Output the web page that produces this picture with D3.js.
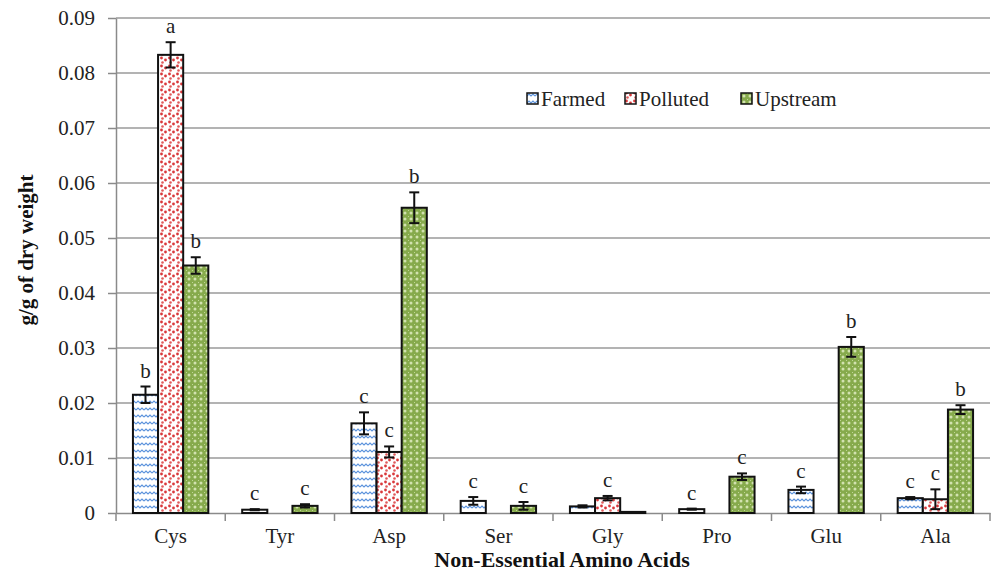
<!DOCTYPE html>
<html>
<head>
<meta charset="utf-8">
<script src="https://cdn.jsdelivr.net/npm/d3@7"></script>
<style>
  body { margin: 0; background: #fff; }
  svg text { font-family: "Liberation Serif", "Times New Roman", "DejaVu Serif", serif !important; }
</style>
</head>
<body>
<svg width="994" height="577"></svg>
<script>
const categories = ["Cys", "Tyr", "Asp", "Ser", "Gly", "Pro", "Glu", "Ala"];
const seriesNames = ["Farmed", "Polluted", "Upstream"];
const farmed   = [0.0215, 0.0006, 0.0163, 0.0022, 0.0012, 0.0007, 0.0042, 0.0027];
const polluted = [0.0833, 0, 0.0111, 0, 0.0027, 0, 0, 0.0025];
const upstream = [0.0450, 0.0013, 0.0555, 0.0013, 0.0002, 0.0066, 0.0302, 0.0188];
const farmedErr   = [0.0015, 0.0001, 0.0020, 0.0007, 0.0002, 0.0001, 0.0006, 0.0002];
const pollutedErr = [0.0023, 0, 0.0010, 0, 0.0004, 0, 0, 0.0018];
const upstreamErr = [0.0015, 0.0003, 0.0028, 0.0007, 0, 0.0006, 0.0018, 0.0008];
const farmedLetters   = ["b", "c", "c", "c", "", "c", "c", "c"];
const pollutedLetters = ["a", "", "c", "", "c", "", "", "c"];
const upstreamLetters = ["b", "c", "b", "c", "", "c", "b", "b"];
const yTicks = [0, 0.01, 0.02, 0.03, 0.04, 0.05, 0.06, 0.07, 0.08, 0.09];

const margin = { top: 18, right: 4, bottom: 64, left: 116 };
const width = 994, height = 577;
const serif = "'Liberation Serif', 'Times New Roman', 'DejaVu Serif', serif";

const svg = d3.select("svg");
const defs = svg.append("defs");

// Farmed: blue wavy lines on white
const pf = defs.append("pattern").attr("id", "pFarmed")
    .attr("patternUnits", "userSpaceOnUse").attr("width", 8).attr("height", 7);
pf.append("rect").attr("width", 8).attr("height", 7).attr("fill", "#fff");
pf.append("path").attr("d", "M0,4 L2,2 L4,4 L6,2 L8,4")
    .attr("fill", "none").attr("stroke", "#5a92dc").attr("stroke-width", 1.1);

// Polluted: red dots on white
const pp = defs.append("pattern").attr("id", "pPolluted")
    .attr("patternUnits", "userSpaceOnUse").attr("width", 8).attr("height", 8);
pp.append("rect").attr("width", 8).attr("height", 8).attr("fill", "#fff");
pp.append("circle").attr("cx", 1.5).attr("cy", 2).attr("r", 1.4).attr("fill", "#d9383a");
pp.append("circle").attr("cx", 5.5).attr("cy", 4).attr("r", 1.4).attr("fill", "#d9383a");
pp.append("circle").attr("cx", 2.5).attr("cy", 6.5).attr("r", 1.3).attr("fill", "#e05a5a");

// Upstream: green with light lattice
const pu = defs.append("pattern").attr("id", "pUpstream")
    .attr("patternUnits", "userSpaceOnUse").attr("width", 6).attr("height", 6);
pu.append("rect").attr("width", 6).attr("height", 6).attr("fill", "#86aa4c");
pu.append("circle").attr("cx", 3).attr("cy", 3).attr("r", 1.5).attr("fill", "#d2e2b0");
pu.append("rect").attr("x", 0).attr("y", 0).attr("width", 1).attr("height", 1).attr("fill", "#c0d696");

const fills = ["url(#pFarmed)", "url(#pPolluted)", "url(#pUpstream)"];

const x = d3.scaleBand()
    .domain(categories)
    .range([margin.left, width - margin.right])
    .paddingInner(0)
    .paddingOuter(0);

const xInner = d3.scaleBand()
    .domain(seriesNames)
    .range([x.bandwidth() * 0.155, x.bandwidth() * 0.845]);

const y = d3.scaleLinear()
    .domain([0, 0.09])
    .range([height - margin.bottom, margin.top]);

// gridlines
svg.append("g")
  .selectAll("line")
  .data(yTicks.slice(1))
  .join("line")
    .attr("x1", margin.left).attr("x2", width - margin.right)
    .attr("y1", d => y(d)).attr("y2", d => y(d))
    .attr("stroke", "#9a9a9a").attr("stroke-width", 1.5);

// y axis
const yAxis = d3.axisLeft(y).tickValues(yTicks)
    .tickFormat(d => d === 0 ? "0" : d3.format(".2f")(d))
    .tickSize(8).tickSizeOuter(0).tickPadding(13);
const gy = svg.append("g").attr("transform", `translate(${margin.left},0)`).call(yAxis)
    .attr("font-family", serif);
gy.selectAll("path, line").attr("stroke", "#8a8a8a").attr("stroke-width", 1.5);
gy.selectAll("text").attr("font-size", 21).attr("fill", "#222");

// x axis
const xAxis = d3.axisBottom(x).tickSize(0).tickPadding(15).tickSizeOuter(0);
const gx = svg.append("g").attr("transform", `translate(0,${y(0)})`).call(xAxis)
    .attr("font-family", serif);
gx.select(".domain").attr("stroke", "#8a8a8a").attr("stroke-width", 1.5);
gx.selectAll("text").attr("font-size", 21).attr("fill", "#222");
// category separator ticks
gx.append("g").selectAll("line")
  .data(categories.map(c => x(c)).concat([width - margin.right]))
  .join("line")
    .attr("x1", d => d).attr("x2", d => d)
    .attr("y1", 0).attr("y2", 8)
    .attr("stroke", "#8a8a8a").attr("stroke-width", 1.5);

// bars
const seriesVals = [farmed, polluted, upstream];
const seriesErr = [farmedErr, pollutedErr, upstreamErr];
const seriesLet = [farmedLetters, pollutedLetters, upstreamLetters];

const rows = [];
categories.forEach((c, i) => {
  seriesNames.forEach((s, j) => {
    rows.push({ cat: c, s: s, j: j, v: seriesVals[j][i], e: seriesErr[j][i], l: seriesLet[j][i] });
  });
});

svg.append("g").selectAll("rect")
  .data(rows.filter(d => d.v > 0))
  .join("rect")
    .attr("x", d => x(d.cat) + xInner(d.s))
    .attr("y", d => y(d.v))
    .attr("width", xInner.bandwidth())
    .attr("height", d => y(0) - y(d.v))
    .attr("fill", d => fills[d.j])
    .attr("stroke", "#111").attr("stroke-width", 2);

// error bars
const eb = svg.append("g").attr("stroke", "#111").attr("stroke-width", 2);
rows.filter(d => d.e > 0).forEach(d => {
  const cx = x(d.cat) + xInner(d.s) + xInner.bandwidth() / 2;
  const top = y(d.v + d.e), bot = y(Math.max(0, d.v - d.e));
  eb.append("line").attr("x1", cx).attr("x2", cx).attr("y1", top).attr("y2", bot);
  eb.append("line").attr("x1", cx - 5).attr("x2", cx + 5).attr("y1", top).attr("y2", top);
  eb.append("line").attr("x1", cx - 5).attr("x2", cx + 5).attr("y1", bot).attr("y2", bot);
});

// letters
svg.append("g").attr("font-family", serif).selectAll("text")
  .data(rows.filter(d => d.l))
  .join("text")
    .attr("x", d => x(d.cat) + xInner(d.s) + xInner.bandwidth() / 2)
    .attr("y", d => y(d.v + d.e) - 9)
    .attr("text-anchor", "middle")
    .attr("font-size", 21).attr("fill", "#222")
    .text(d => d.l);

// axis titles
svg.append("text")
    .attr("transform", `translate(33,250) rotate(-90)`)
    .attr("text-anchor", "middle")
    .attr("font-family", serif)
    .attr("font-size", 21).attr("font-weight", "bold").attr("fill", "#111")
    .text("g/g of dry weight");

svg.append("text")
    .attr("x", 562)
    .attr("y", 567)
    .attr("text-anchor", "middle")
    .attr("font-family", serif)
    .attr("font-size", 22).attr("font-weight", "bold").attr("fill", "#111")
    .text("Non-Essential Amino Acids");

// legend
const legend = svg.append("g").attr("transform", "translate(527,99)").attr("font-family", serif);
const legX = [0, 98, 214];
seriesNames.forEach((s, j) => {
  const g = legend.append("g").attr("transform", `translate(${legX[j]},0)`);
  g.append("rect").attr("x", 0).attr("y", -6).attr("width", 11).attr("height", 11)
    .attr("fill", fills[j]).attr("stroke", "#111").attr("stroke-width", 1.5);
  g.append("text").attr("x", 14).attr("y", 7).attr("font-size", 21).attr("fill", "#222").text(s);
});
</script>
</body>
</html>
